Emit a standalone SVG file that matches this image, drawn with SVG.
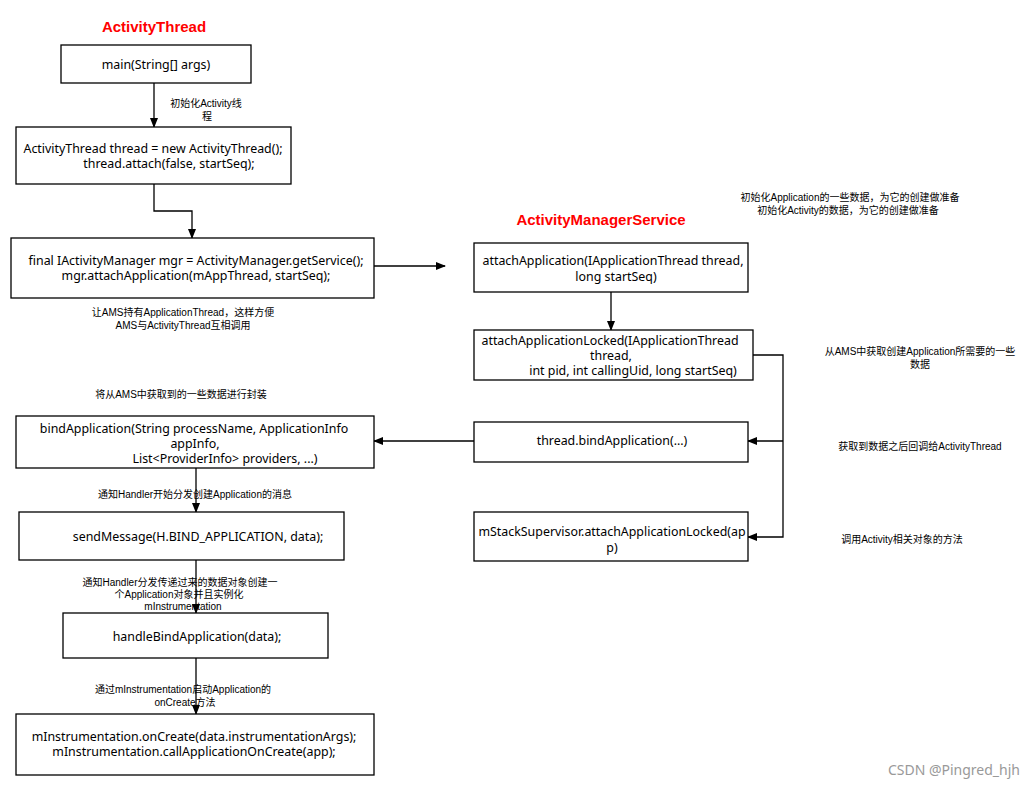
<svg xmlns="http://www.w3.org/2000/svg" width="1035" height="789" viewBox="0 0 1035 789">
<defs>
<marker id="ah" markerWidth="10" markerHeight="8" refX="9" refY="4" orient="auto" markerUnits="userSpaceOnUse">
<path d="M0,0 L10,4 L0,8 Z" fill="#000"/>
</marker>
<style>
.box{fill:#fff;stroke:#000;stroke-width:1.3}
.t{font-family:"Noto Sans","Noto Sans CJK SC",sans-serif;font-size:12.4px;fill:#000}
.l{font-family:"Liberation Sans","Noto Sans CJK SC",sans-serif;font-size:10px;fill:#000}
.h{font-family:"Liberation Sans","Noto Sans",sans-serif;font-size:15px;font-weight:bold;fill:#f00}
.c{fill:none;stroke:#000;stroke-width:1.3}
.m{text-anchor:middle}
</style>
</defs>
<rect width="1035" height="789" fill="#fff"/>
<text class="h m" x="154" y="32">ActivityThread</text>
<text class="h m" x="601" y="225">ActivityManagerService</text>
<g id="connectors">
<path class="c" d="M154,83 V127" marker-end="url(#ah)"/>
<path class="c" d="M154,184 V211 H192 V238" marker-end="url(#ah)"/>
<path class="c" d="M374,266 H445" marker-end="url(#ah)"/>
<path class="c" d="M611,292 V330" marker-end="url(#ah)"/>
<path class="c" d="M753,355 H783 V537 H748" marker-end="url(#ah)"/>
<path class="c" d="M783,441 H748" marker-end="url(#ah)"/>
<path class="c" d="M474,441 H374" marker-end="url(#ah)"/>
<path class="c" d="M196,468 V512" marker-end="url(#ah)"/>
<path class="c" d="M196,560 V613" marker-end="url(#ah)"/>
<path class="c" d="M196,658 V714" marker-end="url(#ah)"/>
</g>
<g id="n-main"><rect class="box" x="61" y="45" width="190" height="38"/><text class="t m" x="156" y="69">main(String[] args)</text></g>
<g id="n-thread"><rect class="box" x="16" y="127" width="275" height="57"/><text class="t m" x="153" y="153">ActivityThread thread = new ActivityThread();</text><text class="t m" x="169" y="168">thread.attach(false, startSeq);</text></g>
<g id="n-mgr"><rect class="box" x="11" y="238" width="363" height="60"/><text class="t m" x="196" y="265">final IActivityManager mgr = ActivityManager.getService();</text><text class="t m" x="196" y="280">mgr.attachApplication(mAppThread, startSeq);</text></g>
<g id="n-attach"><rect class="box" x="474" y="243" width="274" height="49"/><text class="t m" x="613" y="265">attachApplication(IApplicationThread thread,</text><text class="t m" x="616" y="281">long startSeq)</text></g>
<g id="n-locked"><rect class="box" x="474" y="330" width="279" height="50"/><text class="t m" x="610" y="345">attachApplicationLocked(IApplicationThread</text><text class="t m" x="611" y="360">thread,</text><text class="t m" x="633" y="375">int pid, int callingUid, long startSeq)</text></g>
<g id="n-bind"><rect class="box" x="16" y="416" width="358" height="52"/><text class="t m" x="194" y="433">bindApplication(String processName, ApplicationInfo</text><text class="t m" x="195" y="448">appInfo,</text><text class="t m" x="225" y="463">List&lt;ProviderInfo&gt; providers, ...)</text></g>
<g id="n-tbind"><rect class="box" x="474" y="422" width="274" height="40"/><text class="t m" x="612" y="445">thread.bindApplication(...)</text></g>
<g id="n-send"><rect class="box" x="19" y="512" width="325" height="48"/><text class="t m" x="198" y="541">sendMessage(H.BIND_APPLICATION, data);</text></g>
<g id="n-stack"><rect class="box" x="474" y="512" width="274" height="49"/><text class="t m" x="612" y="536">mStackSupervisor.attachApplicationLocked(ap</text><text class="t m" x="612" y="552">p)</text></g>
<g id="n-handle"><rect class="box" x="63" y="613" width="265" height="45"/><text class="t m" x="197" y="641">handleBindApplication(data);</text></g>
<g id="n-oncreate"><rect class="box" x="16" y="714" width="358" height="61"/><text class="t m" x="194" y="741">mInstrumentation.onCreate(data.instrumentationArgs);</text><text class="t m" x="194" y="756">mInstrumentation.callApplicationOnCreate(app);</text></g>
<g id="labels">
<text class="l m" x="206" y="107">初始化Activity线</text>
<text class="l m" x="207" y="120">程</text>
<text class="l m" x="850" y="201">初始化Application的一些数据，为它的创建做准备</text>
<text class="l m" x="848" y="214">初始化Activity的数据，为它的创建做准备</text>
<text class="l m" x="183" y="316">让AMS持有ApplicationThread，这样方便</text>
<text class="l m" x="183" y="329">AMS与ActivityThread互相调用</text>
<text class="l m" x="181" y="398">将从AMS中获取到的一些数据进行封装</text>
<text class="l m" x="920" y="355">从AMS中获取创建Application所需要的一些</text>
<text class="l m" x="920" y="368">数据</text>
<text class="l m" x="920" y="450">获取到数据之后回调给ActivityThread</text>
<text class="l m" x="195" y="498">通知Handler开始分发创建Application的消息</text>
<text class="l m" x="180" y="586">通知Handler分发传递过来的数据对象创建一</text>
<text class="l m" x="179" y="598">个Application对象并且实例化</text>
<text class="l m" x="183" y="610">mInstrumentation</text>
<text class="l m" x="183" y="693">通过mInstrumentation启动Application的</text>
<text class="l m" x="185" y="706">onCreate方法</text>
<text class="l m" x="902" y="543">调用Activity相关对象的方法</text>
</g>
<text x="1020" y="775" text-anchor="end" font-family="'Noto Sans','Liberation Sans',sans-serif" font-size="14" fill="#999">CSDN @Pingred_hjh</text>
</svg>
